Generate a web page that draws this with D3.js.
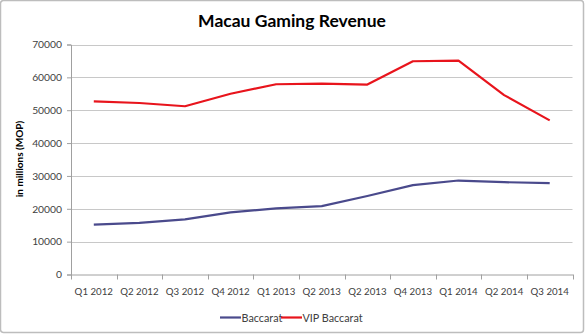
<!DOCTYPE html>
<html><head><meta charset="utf-8">
<script src="https://cdn.jsdelivr.net/npm/d3@7"></script>
<style>html,body{margin:0;padding:0;background:#fff;}svg{display:block;font-family:Lato,"Open Sans",sans-serif;}</style>
</head><body>
<svg id="c" width="585" height="334"></svg>
<script>
const categories = ["Q1 2012","Q2 2012","Q3 2012","Q4 2012","Q1 2013","Q2 2013","Q2 2013 ","Q4 2013","Q1 2014","Q2 2014","Q3 2014"];
const baccarat = [15200,15700,16800,18900,20100,20800,23900,27200,28600,28100,27800];
const vipBaccarat = [52700,52200,51200,55000,57900,58100,57800,64900,65100,54600,46900];
const yTicks = [0,10000,20000,30000,40000,50000,60000,70000];
const seriesNames = ["Baccarat","VIP Baccarat"];
const seriesColors = ["#4a4a8c","#e8141c"];

const svg = d3.select("#c");
svg.append("rect").attr("x",0.5).attr("y",0.5).attr("width",583).attr("height",332)
  .attr("rx",3).attr("fill","#fff").attr("stroke","#bdbdbd").attr("stroke-width",1.5);

const L=71, R=572.5, T=44.5, B=274.5;
const x = d3.scaleBand().domain(categories).range([L,R]);
const y = d3.scaleLinear().domain([0,70000]).range([B,T]);

// gridlines
svg.append("g").selectAll("line").data(yTicks.filter(d=>d>0)).join("line")
  .attr("x1",L).attr("x2",R).attr("y1",d=>Math.round(y(d))+0.5).attr("y2",d=>Math.round(y(d))+0.5)
  .attr("stroke","#c8c8c8").attr("stroke-width",1);

// y axis
const ya = svg.append("g").attr("transform",`translate(${L},0)`)
  .call(d3.axisLeft(y).tickValues(yTicks).tickSize(4).tickPadding(5).tickFormat(d3.format("d")));
ya.select(".domain").attr("stroke","#a0a0a0");
ya.selectAll(".tick line").attr("stroke","#a0a0a0");
ya.selectAll("text").attr("font-size",10.3).attr("fill","#404040").attr("font-family","Lato,sans-serif");

// x axis
const xa = svg.append("g").attr("transform",`translate(0,${B})`)
  .call(d3.axisBottom(x).tickSize(0).tickPadding(14));
xa.select(".domain").attr("stroke","#a0a0a0");
xa.selectAll("text").attr("font-size",9.7).attr("fill","#404040").attr("font-family","Lato,sans-serif");
// boundary ticks
const bounds = categories.map(c=>x(c)).concat([R]);
svg.append("g").selectAll("line").data(bounds).join("line")
  .attr("x1",d=>Math.round(d)+0.5).attr("x2",d=>Math.round(d)+0.5).attr("y1",B).attr("y2",B+5)
  .attr("stroke","#a0a0a0");

// lines
const line = d3.line().x((d,i)=>x(categories[i])+x.bandwidth()/2).y(d=>y(d));
[baccarat, vipBaccarat].forEach((s,i)=>{
  svg.append("path").datum(s).attr("d",line).attr("fill","none")
    .attr("stroke",seriesColors[i]).attr("stroke-width",2.2).attr("stroke-linejoin","round");
});

// title
svg.append("text").attr("x",292).attr("y",27).attr("text-anchor","middle")
  .attr("font-size",17.5).attr("font-weight","bold").attr("fill","#000").text("Macau Gaming Revenue");

// y title
svg.append("text").attr("transform","translate(23,159) rotate(-90)").attr("text-anchor","middle")
  .attr("font-size",10).attr("font-weight","bold").attr("fill","#000").text("in millions (MOP)");

// legend
const lg = svg.append("g");
const lx = [220, 281];
seriesNames.forEach((n,i)=>{
  lg.append("line").attr("x1",lx[i]).attr("x2",lx[i]+21).attr("y1",317.5).attr("y2",317.5)
    .attr("stroke",seriesColors[i]).attr("stroke-width",2.2);
  lg.append("text").attr("x",lx[i]+21.5).attr("y",321.5).attr("font-size",10.8).attr("fill","#404040").text(n);
});
</script>
</body></html>
